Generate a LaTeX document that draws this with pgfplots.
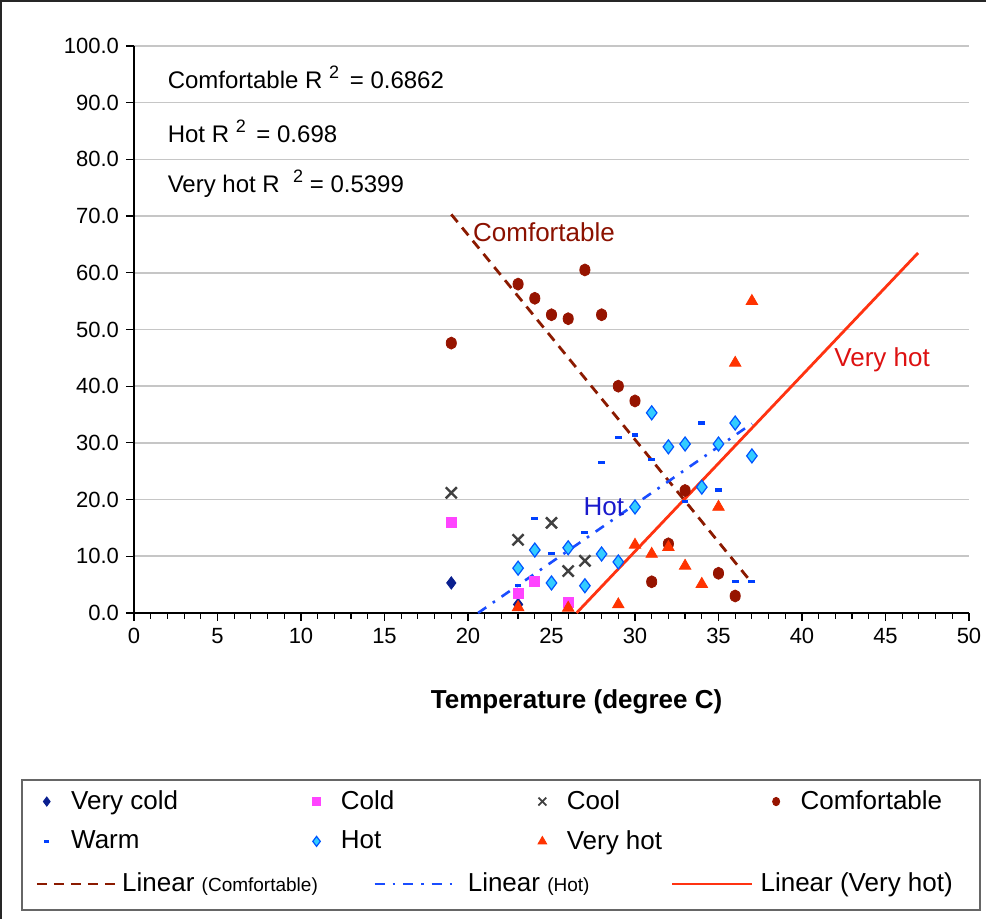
\documentclass[border=0pt]{standalone}
\usepackage{pgfplots}
\pgfplotsset{compat=1.18}
\usepackage{fontspec}
\setmainfont{Liberation Sans}
\definecolor{vcold}{HTML}{0A1F8F}
\definecolor{cold}{HTML}{FF44FF}
\definecolor{cool}{HTML}{404040}
\definecolor{comf}{HTML}{961400}
\definecolor{warm}{HTML}{0040FF}
\definecolor{hotfill}{HTML}{33CCFF}
\definecolor{hotdraw}{HTML}{0055FF}
\definecolor{vhot}{HTML}{FF3300}
\definecolor{trcomf}{HTML}{8B1A00}
\definecolor{trhot}{HTML}{1A4DFF}
\definecolor{trvhot}{HTML}{FF3311}
\definecolor{hottext}{HTML}{1A1ACC}
\definecolor{vhottext}{HTML}{DD1111}
\definecolor{comftext}{HTML}{8B1100}

\pgfplotsset{
  vcoldstyle/.style={only marks, mark=diamond*, mark size=3.1pt, color=vcold},
  coldstyle/.style={only marks, mark=square*, mark size=2.5pt, color=cold},
  coolstyle/.style={only marks, mark=x, mark size=3.9pt, color=cool, mark options={line width=1.2pt}},
  comfstyle/.style={only marks, mark=*, mark size=3pt, color=comf, mark options={xscale=0.85}},
  warmstyle/.style={only marks, mark=-, mark size=1.7pt, color=warm, mark options={line width=1.6pt}},
  hotstyle/.style={only marks, mark=diamond*, mark size=3.5pt, color=hotdraw, mark options={fill=hotfill, line width=0.6pt}},
  vhotstyle/.style={only marks, mark=triangle*, mark size=3.3pt, color=vhot},
}

\begin{document}
\begin{tikzpicture}[x=1pt,y=1pt]
\useasboundingbox (0,0) rectangle (493,459.5);
\draw[black!85, line width=0.8pt] (0.4,0) -- (0.4,459.1) -- (493,459.1);
\draw[black!60, line width=0.7pt] (11,4.5) rectangle (490,69.5);

\begin{axis}[
  at={(67pt,153pt)}, anchor=south west,
  scale only axis, width=417.5pt, height=283.5pt,
  xmin=0, xmax=50, ymin=0, ymax=100,
  axis lines*=left,
  xtick={0,5,...,50}, minor x tick num=4,
  ytick={0,10,...,100},
  tick align=outside, major tick length=4pt, minor tick length=3pt,
  ymajorgrids, grid style={gray!45, line width=0.8pt},
  axis line style={line width=0.8pt, black},
  tick style={black, line width=0.6pt},
  tick label style={font=\fontsize{11}{13}\selectfont},
  /pgf/number format/assume math mode=true,
  yticklabel style={/pgf/number format/.cd, fixed, fixed zerofill, precision=1},
  xticklabel style={/pgf/number format/.cd, fixed, precision=0},
  clip=false,
]
\addplot[vcoldstyle] coordinates {(19,5.3) (23,1.5)};
\addplot[coldstyle] coordinates {(19,16.0) (23,3.4) (24,5.6) (26,1.9)};
\addplot[coolstyle] coordinates {(19,21.2) (23,12.9) (25,15.9) (26,7.4) (27,9.2)};
\addplot[comfstyle] coordinates {(19,47.6) (23,58.0) (24,55.5) (25,52.6) (26,51.9) (27,60.5) (28,52.6) (29,40.0) (30,37.4) (31,5.5) (32,12.2) (33,21.6) (35,7.0) (36,3.0)};
\addplot[warmstyle] coordinates {(23,4.9) (24,16.7) (25,10.5) (27,14.2) (28,26.5) (29,31.0) (30,31.4) (31,27.1) (33,19.6) (34,33.5) (35,21.7) (36,5.5) (37,5.5)};
\addplot[hotstyle] coordinates {(23,7.9) (24,11.1) (25,5.3) (26,11.5) (27,4.8) (28,10.4) (29,9.0) (30,18.7) (31,35.3) (32,29.3) (33,29.8) (34,22.2) (35,29.8) (36,33.5) (37,27.7)};
\addplot[vhotstyle] coordinates {(23,1.0) (26,0.9) (29,1.5) (30,12.0) (31,10.4) (32,11.6) (33,8.3) (34,5.1) (35,18.7) (36,44.1) (37,55.0)};

\addplot[trcomf, line width=1.4pt, dash pattern=on 5pt off 3.5pt] coordinates {(19,70.3) (37,5.3)};
\addplot[trhot, line width=1.3pt, dash pattern=on 5pt off 4pt on 1.3pt off 4pt] coordinates {(20.6,0) (37,33.4)};
\addplot[trvhot, line width=1.4pt] coordinates {(26.5,0) (46.95,63.5)};

\node[anchor=west, font=\fontsize{12}{14}\selectfont] at (axis cs:1.6,94.5) {Comfortable R \raisebox{0.8ex}{\fontsize{9}{10}\selectfont 2}\ \,= 0.6862};
\node[anchor=west, font=\fontsize{12}{14}\selectfont] at (axis cs:1.6,85.0) {Hot R \raisebox{0.8ex}{\fontsize{9}{10}\selectfont 2}\ \,= 0.698};
\node[anchor=west, font=\fontsize{12}{14}\selectfont] at (axis cs:1.6,75.7) {Very hot R \ \raisebox{0.8ex}{\fontsize{9}{10}\selectfont 2} = 0.5399};

\node[font=\fontsize{13}{15}\selectfont, text=comftext] at (axis cs:24.55,67.2) {Comfortable};
\node[font=\fontsize{13}{15}\selectfont, text=vhottext] at (axis cs:44.8,44.6) {Very hot};
\node[font=\fontsize{13}{15}\selectfont, text=hottext] at (axis cs:28.14,18.7) {Hot};

\node[font=\bfseries\fontsize{13}{15}\selectfont] at (axis cs:26.5,-15.6) {Temperature (degree C)};
\end{axis}

% legend: markers
\begin{axis}[
  at={(0pt,0pt)}, anchor=south west, scale only axis, width=493pt, height=459.5pt,
  hide axis, xmin=0, xmax=1, ymin=0, ymax=1,
  legend columns=4, legend cell align=left,
  legend image code/.code={\path (0pt,0pt) (18pt,0pt); \draw[#1] plot coordinates {(8pt,0pt)};},
  legend style={at={(0.0304,0.1061)}, anchor=west, draw=none, fill=none, inner sep=0pt,
    font=\fontsize{13}{15}\selectfont, row sep=5pt,
    /tikz/every even column/.append style={column sep=0pt}},
]
\addlegendimage{vcoldstyle, mark size=2.3pt}
\addlegendentry{\makebox[112.5pt][l]{Very cold}}
\addlegendimage{coldstyle, mark size=2.1pt}
\addlegendentry{\makebox[90.5pt][l]{Cold}}
\addlegendimage{coolstyle, mark size=2.8pt, mark options={line width=0.9pt}}
\addlegendentry{\makebox[94.5pt][l]{Cool}}
\addlegendimage{comfstyle, mark size=2.1pt}
\addlegendentry{\makebox[80pt][l]{Comfortable}}
\addlegendimage{warmstyle, mark size=1.2pt}
\addlegendentry{\makebox[112.5pt][l]{Warm}}
\addlegendimage{hotstyle, mark size=2.5pt}
\addlegendentry{\makebox[90.5pt][l]{Hot}}
\addlegendimage{vhotstyle, mark size=2.5pt}
\addlegendentry{\makebox[94.5pt][l]{Very hot}}
\end{axis}

% legend: lines
\begin{axis}[
  at={(0pt,0pt)}, anchor=south west, scale only axis, width=493pt, height=459.5pt,
  hide axis, xmin=0, xmax=1, ymin=0, ymax=1,
  legend columns=3, legend cell align=left,
  legend image code/.code={\draw[#1] (0pt,0pt) -- (40pt,0pt);},
  legend style={at={(0.0355,0.0381)}, anchor=west, draw=none, fill=none, inner sep=0pt,
    font=\fontsize{13}{15}\selectfont,
    /tikz/every even column/.append style={column sep=0pt}},
]
\addlegendimage{trcomf, line width=1.4pt, dash pattern=on 5pt off 3.5pt}
\addlegendentry{\makebox[123.5pt][l]{Linear {\fontsize{9.5}{11}\selectfont (Comfortable)}}}
\addlegendimage{trhot, line width=1.3pt, dash pattern=on 5pt off 4pt on 1.3pt off 4pt}
\addlegendentry{\makebox[103.5pt][l]{\hspace{4pt}Linear {\fontsize{9.5}{11}\selectfont (Hot)}}}
\addlegendimage{trvhot, line width=1.4pt}
\addlegendentry{\hspace{1.5pt}Linear (Very hot)}
\end{axis}
\end{tikzpicture}
\end{document}
